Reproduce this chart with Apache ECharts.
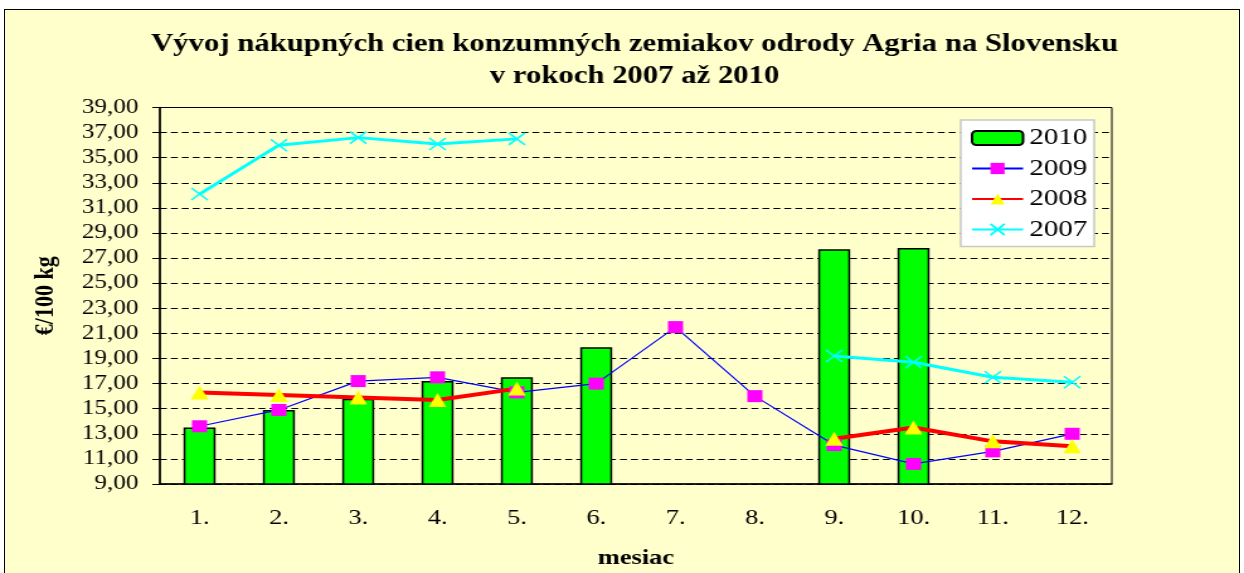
<!DOCTYPE html>
<html>
<head>
<meta charset="utf-8">
<script src="https://cdn.jsdelivr.net/npm/echarts@6/dist/echarts.min.js"></script>
<style>
  body { margin: 0; background: #fff; overflow: hidden; }
  #frame { position: absolute; left: 4px; top: 9px; width: 1234px; height: 600px; border: 1px solid #000; background: #FFFFCC; overflow: hidden; }
  /* the original picture is stretched sideways, so the chart is drawn narrower and widened */
  #chart { width: 980px; height: 564px; transform: scaleX(1.2592); transform-origin: 0 0; }
</style>
</head>
<body>
<div id="frame"><div id="chart"></div></div>
<script>
// mesiace a ceny (€/100 kg)
const months = ['1.', '2.', '3.', '4.', '5.', '6.', '7.', '8.', '9.', '10.', '11.', '12.']
const y2010 = [13.5, 14.9, 15.8, 17.2, 17.5, 19.9, null, null, 27.7, 27.8, null, null]
const y2009 = [13.6, 14.9, 17.2, 17.5, 16.3, 17.0, 21.5, 16.0, 12.1, 10.6, 11.6, 13.0]
const y2008 = [16.3, 16.1, 15.9, 15.7, 16.6, null, null, null, 12.6, 13.5, 12.4, 12.0]
const y2007 = [32.1, 36.0, 36.6, 36.1, 36.5, null, null, null, 19.2, 18.7, 17.5, 17.1]

const serif = 'Liberation Serif, serif'

const chart = echarts.init(document.getElementById('chart'))
chart.setOption({
  animation: false,
  textStyle: { fontFamily: serif, color: '#000' },
  title: {
    text: 'Vývoj nákupných cien konzumných zemiakov odrody Agria na Slovensku\nv rokoch 2007 až 2010',
    left: 495,
    top: 14,
    textAlign: 'center',
    textStyle: { fontFamily: serif, fontSize: 24.4, fontWeight: 'bold', lineHeight: 32, color: '#000' }
  },
  legend: {
    data: ['2010', '2009', '2008', '2007'],
    orient: 'vertical',
    left: 759,
    top: 110,
    padding: [6.5, 5.5, 5.5, 8],
    itemWidth: 40.5,
    itemHeight: 14,
    itemGap: 7.5,
    backgroundColor: '#fff',
    borderColor: '#c8c8c8',
    borderWidth: 1.5,
    textStyle: { fontFamily: serif, fontSize: 23, lineHeight: 23, color: '#000' }
  },
  grid: { left: 123, right: 101, top: 97.5, bottom: 83.5, show: true, borderColor: '#000', borderWidth: 1 },
  xAxis: {
    type: 'category',
    data: months,
    name: 'mesiac',
    nameLocation: 'middle',
    nameGap: 64,
    nameTextStyle: { fontFamily: serif, fontSize: 21, fontWeight: 'bold', color: '#000' },
    axisLine: { lineStyle: { color: '#000', width: 1.5 } },
    axisTick: { length: 6, lineStyle: { color: '#000' } },
    axisLabel: { fontFamily: serif, fontSize: 21, color: '#000', margin: 24 }
  },
  yAxis: [
    {
      type: 'value',
      min: 9,
      max: 39,
      interval: 2,
      name: '€/100 kg',
      nameLocation: 'middle',
      nameGap: 80,
      nameTextStyle: { fontFamily: serif, fontSize: 22, fontWeight: 'bold', color: '#000' },
      axisLine: { show: true, lineStyle: { color: '#000', width: 1.5 } },
      axisTick: { show: true, length: 6, lineStyle: { color: '#000' } },
      axisLabel: { fontFamily: serif, fontSize: 20, color: '#000', margin: 17, formatter: v => v.toFixed(2).replace('.', ',') },
      splitLine: { lineStyle: { color: '#000', type: [5.5, 3.2], width: 1 } }
    },
    {
      // inner half of the crossing ticks
      type: 'value',
      position: 'left',
      offset: 0,
      min: 9,
      max: 39,
      interval: 2,
      axisLine: { show: false },
      axisTick: { show: true, inside: true, length: 5, lineStyle: { color: '#000' } },
      axisLabel: { show: false },
      splitLine: { show: false }
    }
  ],
  series: [
    {
      name: '2010',
      type: 'bar',
      data: y2010,
      barWidth: 25.4,
      itemStyle: { color: '#00FF00', borderColor: '#000', borderWidth: 1.5 }
    },
    {
      name: '2009',
      type: 'line',
      data: y2009,
      symbol: 'rect',
      symbolSize: 12,
      lineStyle: { color: '#0000FF', width: 1.2 },
      itemStyle: { color: '#FF00FF' }
    },
    {
      name: '2008',
      type: 'line',
      data: y2008,
      symbol: 'triangle',
      symbolSize: 14,
      lineStyle: { color: '#FF0000', width: 4 },
      itemStyle: { color: '#FFFF00' }
    },
    {
      name: '2007',
      type: 'line',
      data: y2007,
      symbol: 'path://M0,0L10,10M10,0L0,10',
      symbolSize: [13, 12],
      lineStyle: { color: '#00FFFF', width: 3 },
      itemStyle: { color: '#00FFFF', borderColor: '#00FFFF', borderWidth: 1.5 }
    }
  ]
})
</script>
</body>
</html>
